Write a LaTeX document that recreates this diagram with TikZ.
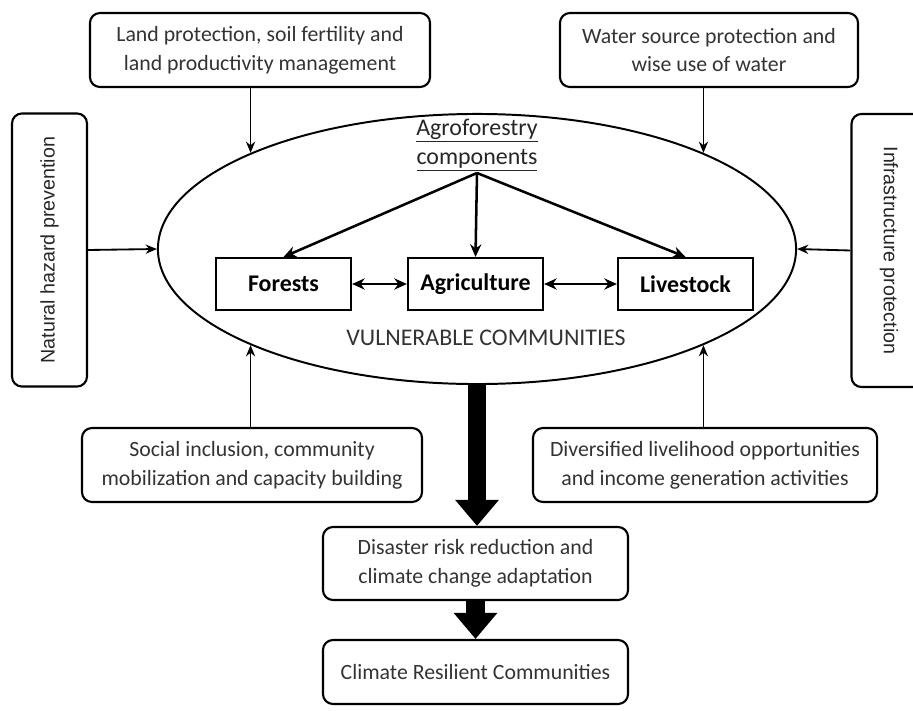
\documentclass[tikz,border=0pt]{standalone}
\usepackage{fontspec}
\usepackage{graphicx}
\setmainfont{Carlito}
\newfontfamily\arialfont{Liberation Sans}
\usetikzlibrary{shapes.geometric,arrows.meta}

\tikzset{
  factor/.style={draw, rounded corners=0.25cm, line width=1.5pt, align=center, inner sep=2pt,
    text=black!80, font=\fontsize{15.5}{20.5}\selectfont},
  sidebox/.style={draw, rounded corners=0.25cm, line width=1.5pt, minimum width=1.875cm,
    minimum height=6.825cm, text=black!85, font=\arialfont\fontsize{14}{16}\selectfont},
  comp/.style={draw, line width=1.5pt, minimum width=3.375cm, minimum height=1.3cm,
    font=\fontsize{17}{20}\selectfont\bfseries},
  arr/.style={-{Stealth[length=8pt,width=6.5pt]}, line width=1.3pt},
  comparr/.style={-{Stealth[length=9pt,width=8pt]}, line width=1.8pt},
  dblarr/.style={{Stealth[length=9pt,width=8pt]}-{Stealth[length=9pt,width=8pt]}, line width=1.8pt},
  bigarr/.style={-{Triangle[length=0.65cm,width=1.05cm]}, line width=0.47cm}
}

\begin{document}
\begin{tikzpicture}[x=0.025cm,y=-0.025cm]
\useasboundingbox (0,0) rectangle (913,710);

\node[ellipse, draw, line width=1.4pt, inner sep=0pt, minimum width=15.95cm, minimum height=6.75cm] (vuln) at (477,249) {};

\node[factor, minimum width=8.5cm, minimum height=1.85cm] (landbox) at (260,50) {Land protection, soil fertility and\\land productivity management};
\node[factor, minimum width=7.45cm, minimum height=1.85cm] (waterbox) at (709,50) {Water source protection and\\wise use of water};
\node[factor, minimum width=8.5cm, minimum height=1.85cm] (socialbox) at (252,465) {Social inclusion, community\\mobilization and capacity building};
\node[factor, minimum width=8.6cm, minimum height=1.85cm] (incomebox) at (705,465) {Diversified livelihood opportunities\\and income generation activities};
\node[factor, minimum width=7.625cm, minimum height=1.825cm] (drrbox) at (475.5,563.5) {Disaster risk reduction and\\climate change adaptation};
\node[factor, minimum width=7.625cm, minimum height=1.6cm] (crcbox) at (475.5,672) {Climate Resilient Communities};

\node[sidebox] (hazardbox) at (49.5,250) {\rotatebox{90}{Natural hazard prevention}};
\node[sidebox] (infrabox) at (889,250.5) {\rotatebox{-90}{Infrastructure protection}};

\node[align=center, inner sep=1pt, font=\fontsize{17}{21}\selectfont, text=black!85] (agro) at (477,145) {\underline{Agroforestry}\\\underline{components}};
\node[comp] (forest) at (283.5,284) {Forests};
\node[comp] (agri) at (475.5,284) {Agriculture};
\node[comp] (stock) at (685.5,284) {Livestock};
\node[font=\fontsize{17}{20}\selectfont, text=black!80] (vulntext) at (486,338) {VULNERABLE COMMUNITIES};

\draw[comparr] (agro.south) -- (forest.north);
\draw[comparr] (agro.south) -- (agri.north);
\draw[comparr] (agro.south) -- (stock.north);
\draw[dblarr] (forest) -- (agri);
\draw[dblarr] (agri) -- (stock);

\draw[arr] (landbox.south -| vuln.157) -- (vuln.157);
\draw[arr] (waterbox.south -| vuln.23) -- (vuln.23);
\draw[arr] (socialbox.north -| vuln.203) -- (vuln.203);
\draw[arr] (incomebox.north -| vuln.337) -- (vuln.337);
\draw[arr] (hazardbox.east) -- (vuln.west);
\draw[arr] (infrabox.west) -- (vuln.east);

\draw[bigarr] (vuln.south) -- (vuln.south |- drrbox.north);
\draw[bigarr] (drrbox.south) -- (crcbox.north);
\end{tikzpicture}
\end{document}
